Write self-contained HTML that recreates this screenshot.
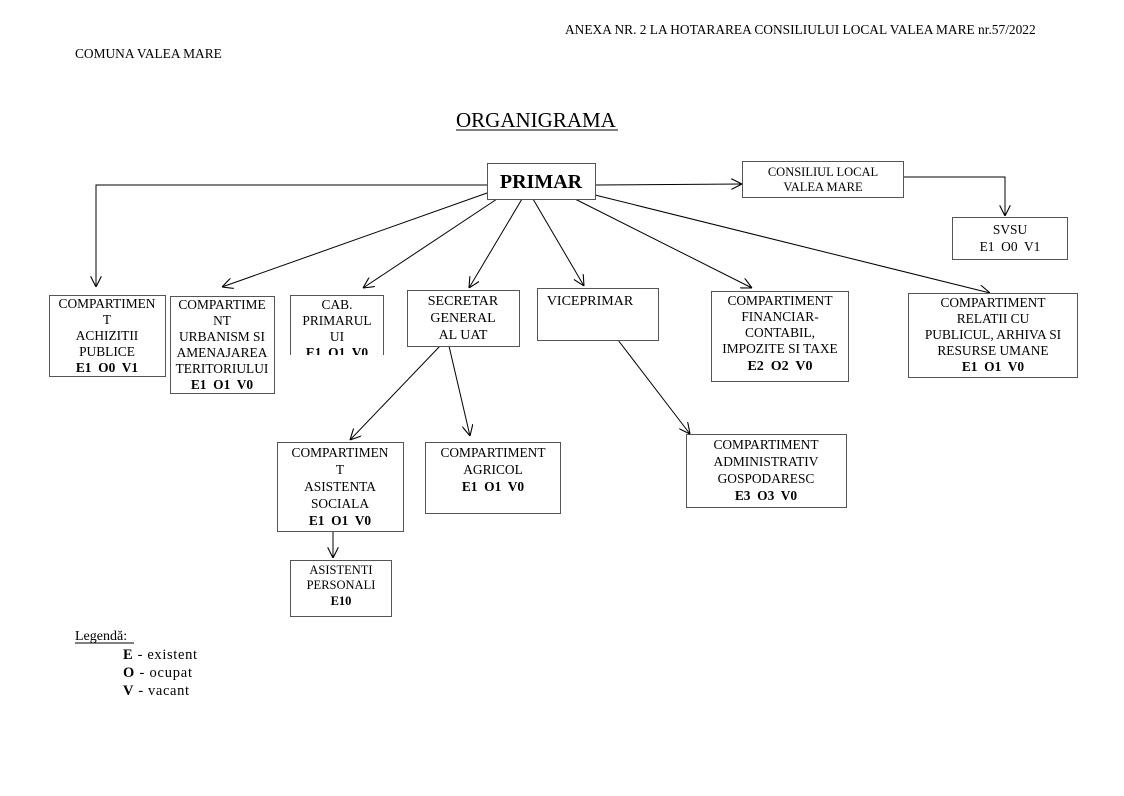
<!DOCTYPE html>
<html><head><meta charset="utf-8"><style>
body{margin:0;background:#fff}
svg{display:block;font-family:"Liberation Serif",serif}
text{fill:#000;font-size:13.4px;white-space:pre}
.b{font-weight:bold}
rect{fill:#fff;stroke:#555;stroke-width:1}
line,polyline{stroke:#000;stroke-width:1;fill:none}
</style></head><body>
<svg width="1124" height="796" viewBox="0 0 1124 796" xmlns="http://www.w3.org/2000/svg" xml:space="preserve">
<defs><marker id="a" viewBox="0 0 10 10" refX="10" refY="5" markerWidth="11" markerHeight="11" orient="auto" markerUnits="userSpaceOnUse"><polyline points="0,0 10,5 0,10" style="stroke:#000;fill:none"/></marker></defs>
<text x="565" y="34">ANEXA NR. 2 LA HOTARAREA CONSILIULUI LOCAL VALEA MARE nr.57/2022</text>
<text x="75" y="58">COMUNA VALEA MARE</text>
<text x="456" y="127" style="font-size:21px">ORGANIGRAMA</text>
<line x1="456" y1="130" x2="618" y2="130"/>

<polyline points="487,185 96,185 96,287" marker-end="url(#a)"/>
<line x1="487" y1="193" x2="222" y2="287" marker-end="url(#a)"/>
<line x1="497" y1="199" x2="363" y2="288" marker-end="url(#a)"/>
<line x1="522" y1="199" x2="469" y2="288" marker-end="url(#a)"/>
<line x1="533" y1="199" x2="584" y2="286" marker-end="url(#a)"/>
<line x1="575" y1="199" x2="752" y2="288" marker-end="url(#a)"/>
<line x1="595" y1="195" x2="990" y2="293" marker-end="url(#a)"/>
<line x1="595" y1="185" x2="742" y2="184" marker-end="url(#a)"/>
<polyline points="903,177 1005,177 1005,216" marker-end="url(#a)"/>
<line x1="440" y1="346" x2="350" y2="440" marker-end="url(#a)"/>
<line x1="449" y1="346" x2="470" y2="436" marker-end="url(#a)"/>
<line x1="618" y1="340" x2="690" y2="434" marker-end="url(#a)"/>
<line x1="333" y1="531" x2="333" y2="558" marker-end="url(#a)"/>

<rect x="487.5" y="163.5" width="108" height="36"/>
<text x="541" y="188" text-anchor="middle" class="b" style="font-size:20px">PRIMAR</text>
<rect x="742.5" y="161.5" width="161" height="36"/>
<text x="823" y="176" text-anchor="middle" style="font-size:12.5px">CONSILIUL LOCAL</text>
<text x="823" y="191" text-anchor="middle" style="font-size:12.5px">VALEA MARE</text>
<rect x="952.5" y="217.5" width="115" height="42"/>
<text x="1010" y="234" text-anchor="middle">SVSU</text>
<text x="1010" y="251" text-anchor="middle">E1  O0  V1</text>

<rect x="49.5" y="295.5" width="116" height="81"/>
<g text-anchor="middle"><text x="107" y="308">COMPARTIMEN</text><text x="107" y="324">T</text><text x="107" y="340">ACHIZITII</text><text x="107" y="356">PUBLICE</text><text x="107" y="372" class="b">E1  O0  V1</text></g>

<rect x="170.5" y="296.5" width="104" height="97"/>
<g text-anchor="middle"><text x="222" y="309">COMPARTIME</text><text x="222" y="325">NT</text><text x="222" y="341">URBANISM SI</text><text x="222" y="357">AMENAJAREA</text><text x="222" y="373">TERITORIULUI</text><text x="222" y="389" class="b">E1  O1  V0</text></g>

<polyline points="290.5,355 290.5,295.5 383.5,295.5 383.5,355" style="stroke:#555"/>
<svg x="290" y="295" width="94" height="60"><g text-anchor="middle"><text x="47" y="14">CAB.</text><text x="47" y="30">PRIMARUL</text><text x="47" y="46">UI</text><text x="47" y="62" class="b">E1  O1  V0</text></g></svg>

<rect x="407.5" y="290.5" width="112" height="56"/>
<g text-anchor="middle"><text x="463" y="305" style="font-size:14px">SECRETAR</text><text x="463" y="322" style="font-size:14px">GENERAL</text><text x="463" y="339" style="font-size:14px">AL UAT</text></g>

<rect x="537.5" y="288.5" width="121" height="52"/>
<text x="590" y="305" text-anchor="middle" style="font-size:14px">VICEPRIMAR</text>

<rect x="711.5" y="291.5" width="137" height="90"/>
<g text-anchor="middle"><text x="780" y="305">COMPARTIMENT</text><text x="780" y="321">FINANCIAR-</text><text x="780" y="337">CONTABIL,</text><text x="780" y="353">IMPOZITE SI TAXE</text><text x="780" y="370" class="b" style="font-size:14px">E2  O2  V0</text></g>

<rect x="908.5" y="293.5" width="169" height="84"/>
<g text-anchor="middle"><text x="993" y="307">COMPARTIMENT</text><text x="993" y="323">RELATII CU</text><text x="993" y="339">PUBLICUL, ARHIVA SI</text><text x="993" y="355">RESURSE UMANE</text><text x="993" y="371" class="b">E1  O1  V0</text></g>

<rect x="277.5" y="442.5" width="126" height="89"/>
<g text-anchor="middle"><text x="340" y="457">COMPARTIMEN</text><text x="340" y="474">T</text><text x="340" y="491">ASISTENTA</text><text x="340" y="508">SOCIALA</text><text x="340" y="525" class="b">E1  O1  V0</text></g>

<rect x="425.5" y="442.5" width="135" height="71"/>
<g text-anchor="middle"><text x="493" y="457">COMPARTIMENT</text><text x="493" y="474">AGRICOL</text><text x="493" y="491" class="b">E1  O1  V0</text></g>

<rect x="686.5" y="434.5" width="160" height="73"/>
<g text-anchor="middle"><text x="766" y="449">COMPARTIMENT</text><text x="766" y="466">ADMINISTRATIV</text><text x="766" y="483">GOSPODARESC</text><text x="766" y="500" class="b">E3  O3  V0</text></g>

<rect x="290.5" y="560.5" width="101" height="56"/>
<g text-anchor="middle"><text x="341" y="574" style="font-size:12.5px">ASISTENTI</text><text x="341" y="589" style="font-size:12.5px">PERSONALI</text><text x="341" y="605" class="b" style="font-size:12.5px">E10</text></g>

<text x="75" y="640" style="font-size:14px">Legendă:</text>
<line x1="75" y1="643" x2="134" y2="643"/>
<text x="123" y="659" style="font-size:14.5px" textLength="74" lengthAdjust="spacing"><tspan class="b">E</tspan> - existent</text>
<text x="123" y="677" style="font-size:14.5px" textLength="69" lengthAdjust="spacing"><tspan class="b">O</tspan> - ocupat</text>
<text x="123" y="695" style="font-size:14.5px" textLength="66" lengthAdjust="spacing"><tspan class="b">V</tspan> - vacant</text>
</svg>
</body></html>
